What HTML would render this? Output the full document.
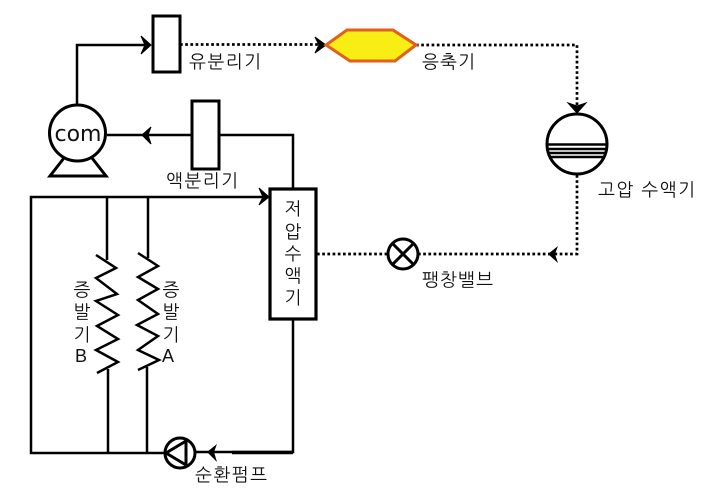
<!DOCTYPE html>
<html><head><meta charset="utf-8">
<style>
html,body{margin:0;padding:0;background:#fff;width:710px;height:504px;overflow:hidden}
svg{display:block}
text{font-family:"Liberation Sans","NanumGothic","Noto Sans CJK KR",sans-serif;font-size:18px;fill:#111}
.l{fill:none;stroke:#000;stroke-width:2.5}
.d{fill:none;stroke:#000;stroke-width:2.7;stroke-dasharray:2.7 2.5}
.z{fill:none;stroke:#000;stroke-width:2.5;stroke-linejoin:miter}
.b{fill:#fff;stroke:#000;stroke-width:3}
</style></head><body>
<svg width="710" height="504" viewBox="0 0 710 504" xmlns="http://www.w3.org/2000/svg">
<!-- solid lines -->
<path class="l" d="M77 105V45H148"/>
<path class="l" d="M107 135H192M219 135H293V189"/>
<path class="l" d="M266 197H31V453H164"/>
<path class="l" d="M107 197V260M148 197V258"/>
<path class="l" d="M108 369V453M147 367V453"/>
<path class="l" d="M293 319V452H196"/>
<path d="M232 452.500H293" stroke="#000" stroke-width="3.500" fill="none"/>
<!-- dotted -->
<path class="d" d="M180 44.500H322"/>
<path class="d" d="M416 45H577V106"/>
<path class="d" d="M577 175V254H552"/>
<path class="d" d="M317 254H388M418 254H552"/>
<!-- arrowheads -->
<path d="M151 45L141 36L145 45L141 54Z" stroke="#000" stroke-width="1"/>
<path d="M142 135L151 127L148 135L151 144Z" stroke="#000" stroke-width="1"/>
<path d="M269 197L259 188L263 197L259 205Z" stroke="#000" stroke-width="1"/>
<path d="M326 45L315 37L319 45L315 53Z" stroke="#000" stroke-width="1"/>
<path d="M577 113L568 103L577 106L586 103Z" stroke="#000" stroke-width="1"/>
<path d="M548 254L558 246L555 254L558 263Z"/>
<path d="M207 452L217 444L214 452L217 462Z"/>
<!-- oil sep, liquid sep -->
<rect class="b" x="153" y="16" width="27" height="56"/>
<rect class="b" x="192" y="101" width="27" height="68"/>
<!-- compressor -->
<path d="M64 158L50 176H106L92 158" fill="none" stroke="#000" stroke-width="3"/>
<circle cx="77.500" cy="133" r="28" fill="#fff" stroke="#000" stroke-width="3"/>
<text x="78" y="141" text-anchor="middle" style="font-family:'DejaVu Sans',sans-serif;font-size:22px">com</text>
<!-- hexagon -->
<polygon points="326,45 347,30 393,30 416,45 395,61 350,61" fill="#f8ee14" stroke="#e0601c" stroke-width="3"/>
<!-- tank -->
<circle cx="577" cy="144" r="30" fill="#fff" stroke="#000" stroke-width="3"/>
<path d="M548 144.500H606M548 149H606M548 153H606M549 157H605" stroke="#000" stroke-width="2.400" fill="none"/>
<!-- low-pressure tank -->
<rect x="270" y="189" width="46" height="130" fill="#fff" stroke="#000" stroke-width="3.200"/>
<!-- valve -->
<circle cx="403" cy="254" r="15" fill="#fff" stroke="#000" stroke-width="3"/>
<path d="M392.500 243.500L413.500 264.500M413.500 243.500L392.500 264.500" stroke="#000" stroke-width="3"/>
<!-- pump -->
<circle cx="180" cy="453" r="15" fill="#fff" stroke="#000" stroke-width="3"/>
<path d="M186 441L166 453L186 465Z" fill="none" stroke="#000" stroke-width="3"/>
<!-- coils -->
<polyline class="z" points="96,255 116,268 96,278 117,294 96,301 118,315 97,326 118,339 96,350 118,362 97,373"/>
<polyline class="z" points="138,253 158,266 138,277 158,289 138,300 158,314 137,325 158,336 138,350 159,360 138,370"/>
<!-- labels -->
<text x="189" y="68" textLength="72">유분리기</text>
<text x="166" y="187" textLength="72">액분리기</text>
<text x="422" y="68" textLength="53">응축기</text>
<text x="598" y="196" textLength="97">고압 수액기</text>
<text x="422" y="286" textLength="71">팽창밸브</text>
<text x="195" y="481" textLength="72">순환펌프</text>
<g text-anchor="middle">
<text x="293" y="215">저</text><text x="293" y="238">압</text><text x="293" y="260">수</text><text x="293" y="282">액</text><text x="293" y="304">기</text>
<text x="82" y="296">증</text><text x="82" y="318">발</text><text x="82" y="341">기</text><text x="81" y="362" style="font-family:'Liberation Sans',sans-serif">B</text>
<text x="171" y="296">증</text><text x="171" y="318">발</text><text x="171" y="341">기</text><text x="168" y="362" style="font-family:'Liberation Sans',sans-serif">A</text>
</g>
</svg>
</body></html>
